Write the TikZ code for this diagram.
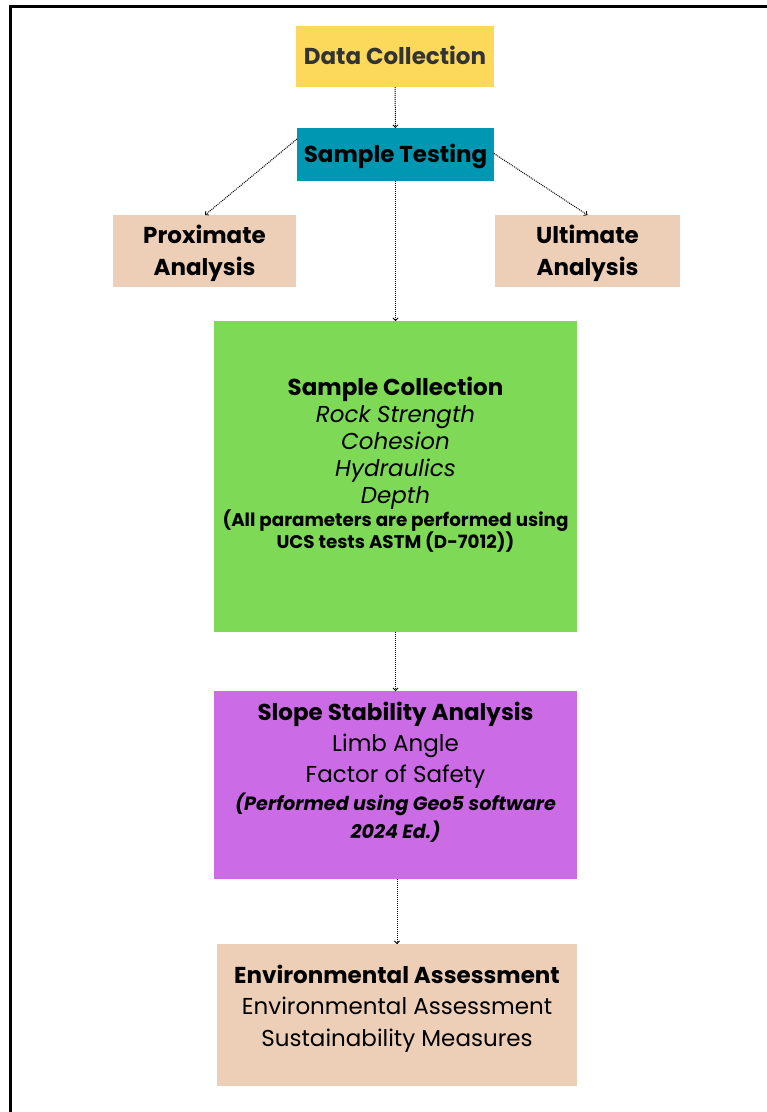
\documentclass[tikz,border=0pt]{standalone}
\usepackage{fontspec}
\setmainfont{Poppins}
\usetikzlibrary{arrows.meta}
\definecolor{cyel}{HTML}{FDD95B}
\definecolor{cteal}{HTML}{0097B2}
\definecolor{cbeige}{HTML}{EDCFB8}
\definecolor{cgreen}{HTML}{7ED957}
\definecolor{cpurple}{HTML}{CB6CE6}
\definecolor{ctxt}{HTML}{333333}
\newcommand{\fs}[2]{\fontsize{#1}{#2}\selectfont\lineskiplimit=-60pt\lineskip=0pt\relax}
\tikzset{
  box/.style={draw=none, inner sep=0pt, outer sep=0pt},
  lbl/.style={align=center, inner sep=0pt, anchor=base},
  flow/.style={line width=1pt, dash pattern=on 1pt off 1pt,
    -{Straight Barb[length=2.5pt,width=5pt,line width=0.8pt]}},
  frame/.style={line width=3pt, draw=black}
}
\begin{document}
\begin{tikzpicture}[x=1pt,y=-1pt]
\useasboundingbox (0,0) rectangle (767,1112);
\begin{scope}
\clip (0,0) rectangle (767,1112);
\draw[frame] (10.5,6.5) rectangle (800,1140);
\end{scope}
% boxes
\node[box, fill=cyel, minimum width=198pt, minimum height=61pt] (dc) at (395,56.5) {};
\node[lbl, font=\bfseries\fs{23}{31}, text=ctxt] (dct) at (395,64) {Data Collection};
\node[box, fill=cteal, minimum width=197pt, minimum height=53pt] (st) at (395.5,154.5) {};
\node[lbl, font=\bfseries\fs{23}{31}] (stt) at (395.5,162) {Sample Testing};
\node[box, fill=cbeige, minimum width=183pt, minimum height=72pt] (pa) at (204.5,251) {};
\node[lbl, font=\bfseries\fs{23}{32}] (pat) at (204.5,275) {Proximate\\Analysis};
\node[box, fill=cbeige, minimum width=185pt, minimum height=72pt] (ua) at (587.5,251) {};
\node[lbl, font=\bfseries\fs{23}{32}] (uat) at (587.5,275) {Ultimate\\Analysis};
\node[box, fill=cgreen, minimum width=363pt, minimum height=311pt] (sc) at (395.5,476.5) {};
\node[lbl, font=\fs{23}{27}] (sct) at (395.5,548) {%
{\bfseries Sample Collection}\\
{\itshape Rock Strength}\\
{\itshape Cohesion}\\
{\itshape Hydraulics}\\
{\itshape Depth}\\[-4pt]
{\bfseries\fontsize{18.3}{22}\selectfont (All parameters are performed using}\\[-5pt]
{\bfseries\fontsize{18.3}{22}\selectfont UCS tests ASTM (D-7012))}};
\node[box, fill=cpurple, minimum width=363pt, minimum height=188pt] (ss) at (395.5,785) {};
\node[lbl, font=\fs{23}{31}] (sst) at (395.5,838) {%
{\bfseries Slope Stability Analysis}\\
Limb Angle\\
Factor of Safety\\[-3pt]
{\bfseries\itshape\fontsize{19.2}{28}\selectfont (Performed using Geo5 software}\\[-3pt]
{\bfseries\itshape\fontsize{19.2}{28}\selectfont 2024 Ed.)}};
\node[box, fill=cbeige, minimum width=360pt, minimum height=142pt] (ea) at (397,1015) {};
\node[lbl, font=\fs{23}{31.5}] (eat) at (397,1046) {%
{\bfseries Environmental Assessment}\\
Environmental Assessment\\
Sustainability Measures};
% connectors
\draw[flow] (dc.south) -- (st.north);
\draw[flow] ([yshift=-11pt]st.north west) -- ([xshift=0.5pt]pa.north);
\draw[flow] ([yshift=1pt]st.east) -- (ua.north);
\draw[flow] (st.south) -- (sc.north);
\draw[flow] (sc.south) -- (ss.north);
\draw[flow] ([xshift=1.5pt]ss.south) -- ([xshift=0pt]ea.north);
\end{tikzpicture}
\end{document}
